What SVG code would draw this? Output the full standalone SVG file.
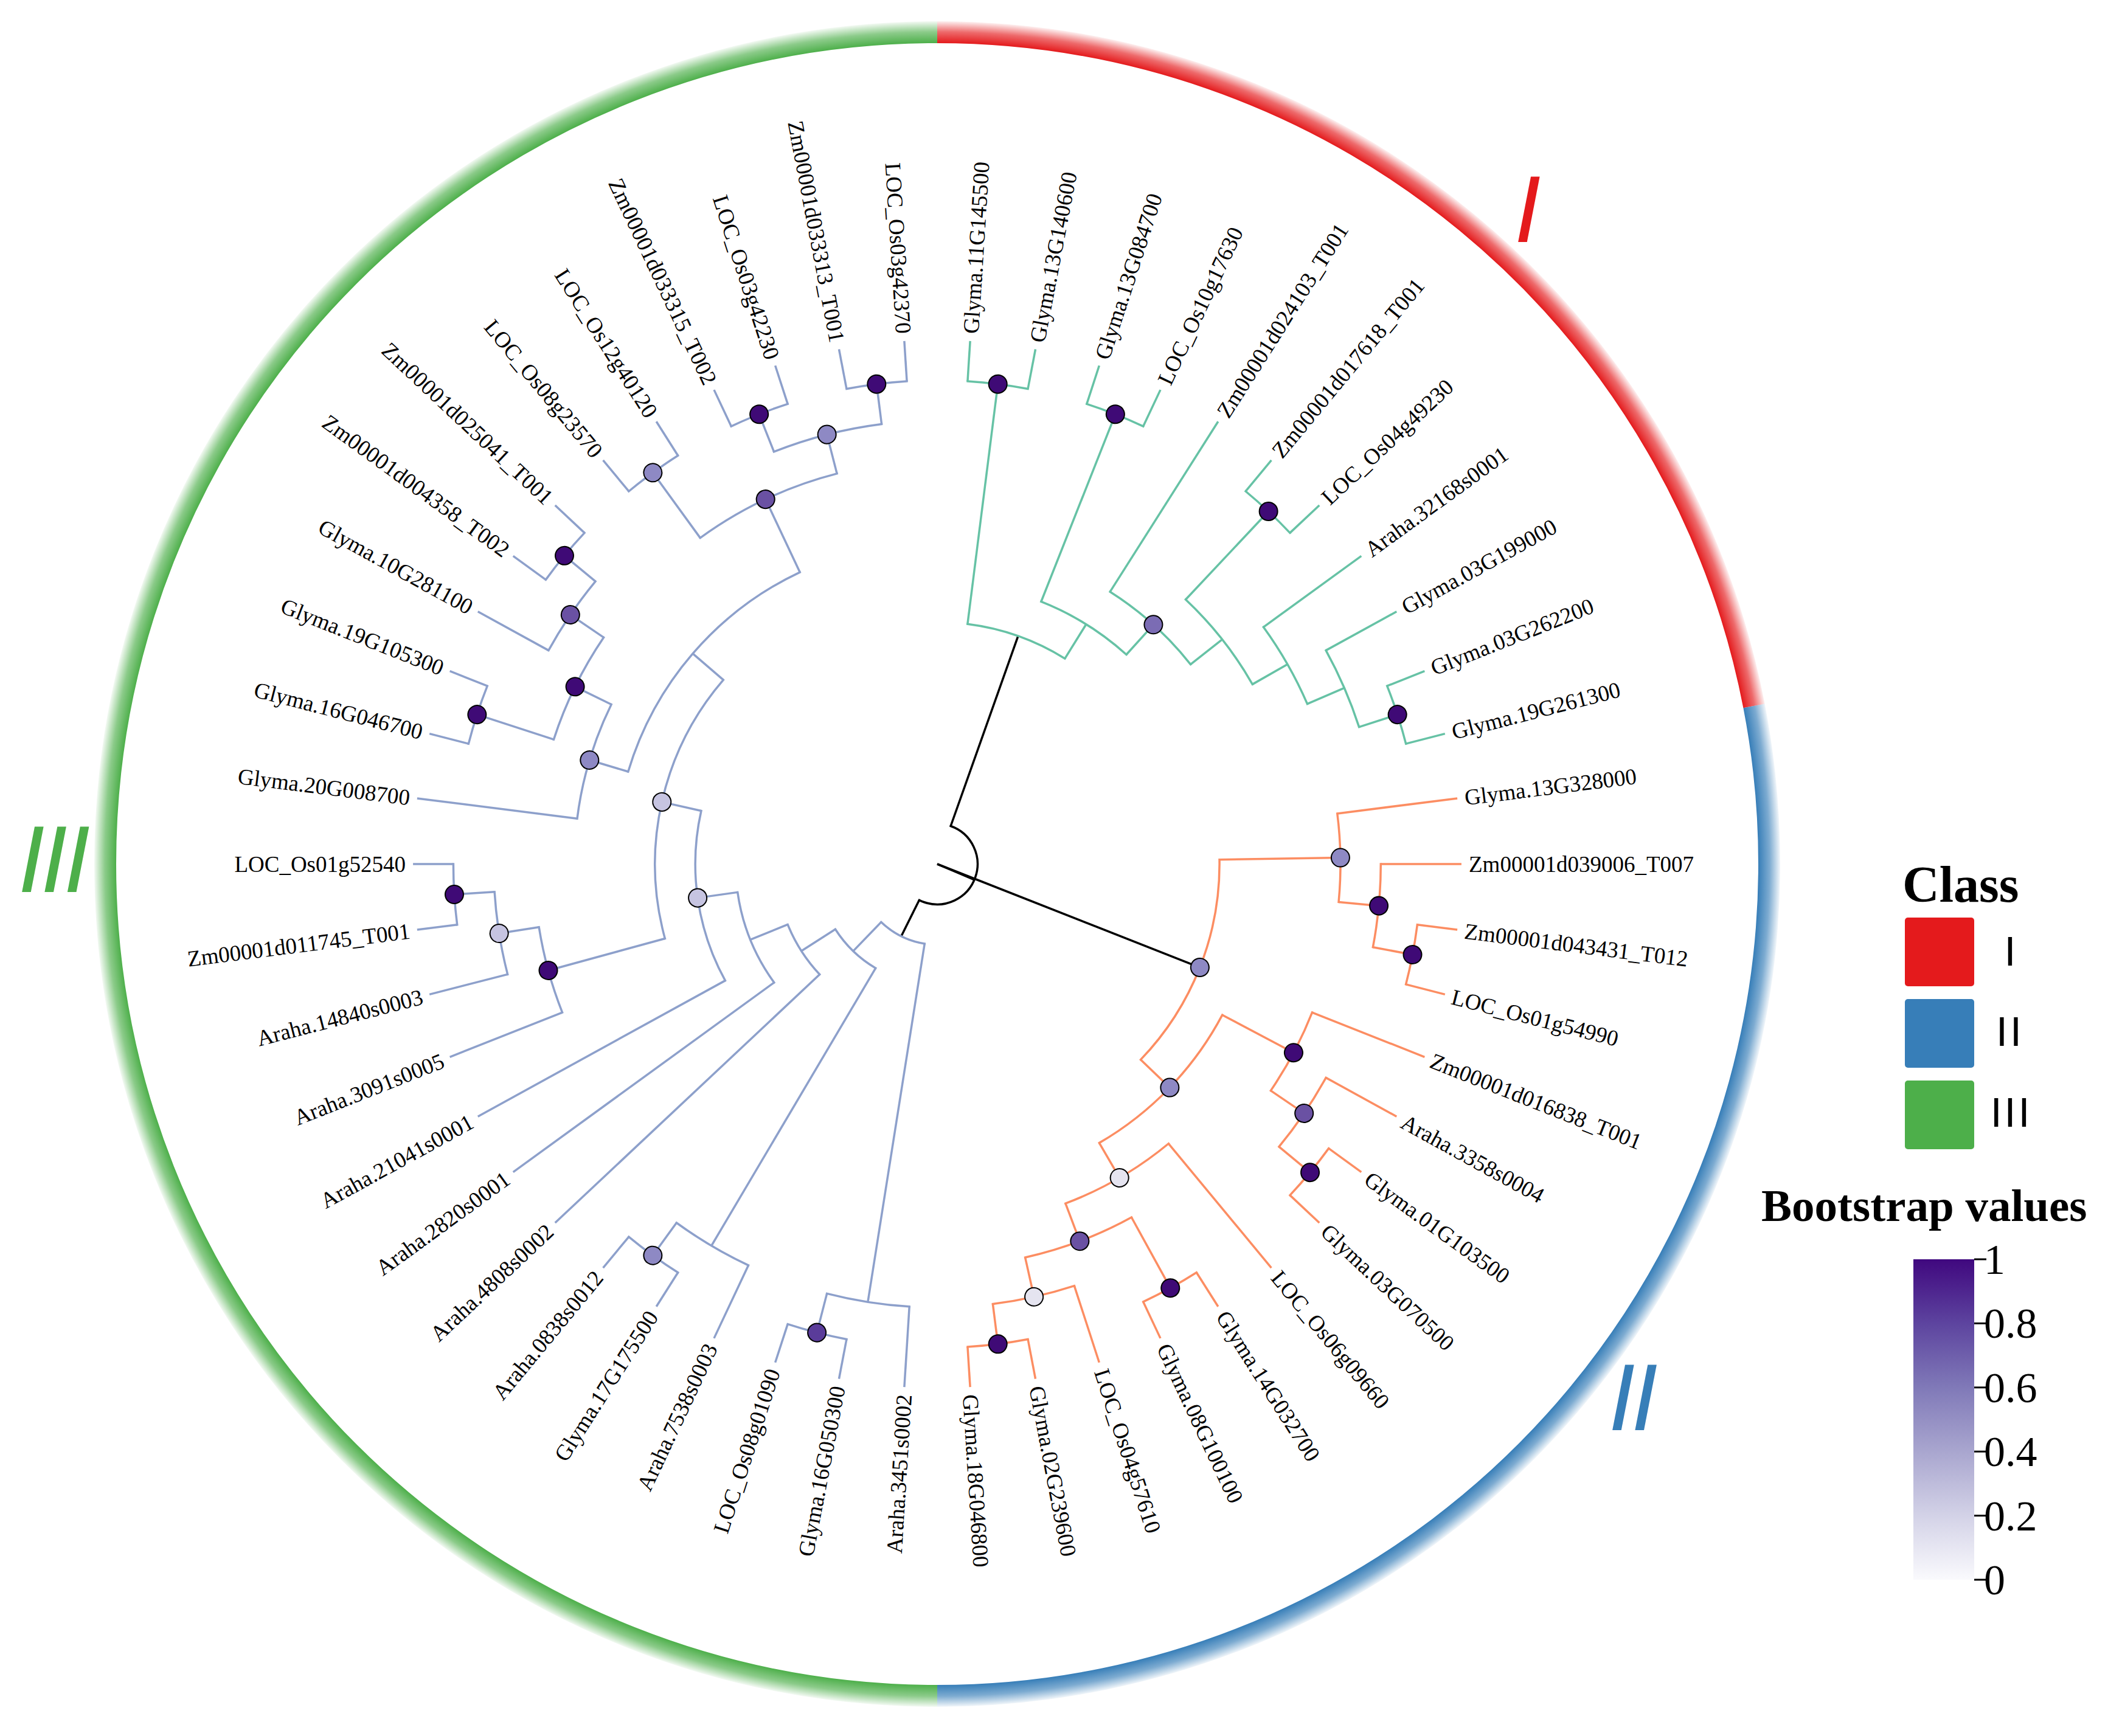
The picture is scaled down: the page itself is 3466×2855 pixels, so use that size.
<svg xmlns="http://www.w3.org/2000/svg" width="3466" height="2855" viewBox="0 0 3466 2855">
<defs>
<style>
.br{fill:none;stroke-width:3.5;stroke-linecap:butt}
.arc{fill:none;stroke-width:3.5;stroke-linecap:square}
.k{stroke:#000}
.c1{stroke:#66c2a5}
.c2{stroke:#fc8d62}
.c3{stroke:#8da0cb}
.lab{font-family:"Liberation Serif","Times New Roman",serif;font-size:37px;fill:#000}
.l{text-anchor:end}
.dot{stroke:#000;stroke-width:2}
.d10{fill:#3f0a76}.d9{fill:#5a3c9a}.d8{fill:#6a51a3}.d7{fill:#7b6cb4}.d6{fill:#8e89c4}.d4{fill:#c6c4e1}.d2{fill:#e5e4f0}
.ring{fill:none;stroke-width:36;stroke-linecap:butt}
.cls{font-family:"Liberation Sans",Arial,sans-serif;font-style:italic;font-size:156px;letter-spacing:-6px}
.leg{font-family:"Liberation Sans",Arial,sans-serif;font-size:68px;text-anchor:middle;letter-spacing:4px;fill:#000}
.tick{font-family:"Liberation Serif","Times New Roman",serif;font-size:70px;fill:#000}
.title{font-family:"Liberation Serif","Times New Roman",serif;font-weight:bold;fill:#000}
</style>
<radialGradient id="gRed" gradientUnits="userSpaceOnUse" cx="1541" cy="1421" r="1388">
<stop offset="0" stop-color="#e41a1c"/><stop offset="0.9726" stop-color="#e41a1c"/><stop offset="0.986" stop-color="#e41a1c" stop-opacity="0.65"/><stop offset="1" stop-color="#e41a1c" stop-opacity="0"/>
</radialGradient>
<radialGradient id="gBlue" gradientUnits="userSpaceOnUse" cx="1541" cy="1421" r="1388">
<stop offset="0" stop-color="#377eb8"/><stop offset="0.9726" stop-color="#377eb8"/><stop offset="0.986" stop-color="#377eb8" stop-opacity="0.65"/><stop offset="1" stop-color="#377eb8" stop-opacity="0"/>
</radialGradient>
<radialGradient id="gGreen" gradientUnits="userSpaceOnUse" cx="1541" cy="1421" r="1388">
<stop offset="0" stop-color="#4daf4a"/><stop offset="0.9726" stop-color="#4daf4a"/><stop offset="0.986" stop-color="#4daf4a" stop-opacity="0.65"/><stop offset="1" stop-color="#4daf4a" stop-opacity="0"/>
</radialGradient>
<linearGradient id="gBoot" x1="0" y1="0" x2="0" y2="1">
<stop offset="0" stop-color="#40087f"/><stop offset="0.2" stop-color="#5d449f"/><stop offset="0.4" stop-color="#8079b8"/><stop offset="0.6" stop-color="#a9a6cf"/><stop offset="0.8" stop-color="#d3d2e7"/><stop offset="1" stop-color="#fafafd"/>
</linearGradient>
</defs>
<rect width="3466" height="2855" fill="#fff"/>

<g id="class-ring">
<path class="ring" stroke="url(#gRed)" d="M1541 53 A1368 1368 0 0 1 2884.05 1160.9"/>
<path class="ring" stroke="url(#gBlue)" d="M2884.05 1160.9 A1368 1368 0 0 1 1541 2789"/>
<path class="ring" stroke="url(#gGreen)" d="M1541 2789 A1368 1368 0 0 1 173 1421 A1368 1368 0 0 1 1541 53"/>
<text class="cls" x="2490" y="398" fill="#e41a1c">I</text>
<text class="cls" x="2645" y="2352" fill="#377eb8">II</text>
<text class="cls" x="30" y="1467" fill="#4daf4a">III</text>
</g>

<g transform="translate(1541 1421)">
<g id="connectors">
<g class="k">
<line class="br" x1="0" x2="464.1" transform="rotate(21.49)"/>
<line class="br" x1="0" x2="66.3" transform="rotate(23.01)"/>
<circle class="arc" r="66.3" pathLength="360" stroke-dasharray="186.98 400" transform="rotate(-70.48)"/>
<line class="br" x1="66.3" x2="397.8" transform="rotate(-70.48)"/>
<line class="br" x1="66.3" x2="132.6" transform="rotate(116.5)"/>
</g>
<g class="c1">
<circle class="arc" r="397.8" pathLength="360" stroke-dasharray="24.64 400" transform="rotate(-82.8)"/>
<circle class="arc" r="464.1" pathLength="360" stroke-dasharray="20.475 400" transform="rotate(-68.4)"/>
<circle class="arc" r="530.4" pathLength="360" stroke-dasharray="19.35 400" transform="rotate(-57.6)"/>
<circle class="arc" r="596.7" pathLength="360" stroke-dasharray="17.1 400" transform="rotate(-46.8)"/>
<circle class="arc" r="663" pathLength="360" stroke-dasharray="12.6 400" transform="rotate(-36)"/>
<circle class="arc" r="729.3" pathLength="360" stroke-dasharray="10.8 400" transform="rotate(-28.8)"/>
<circle class="arc" r="795.6" pathLength="360" stroke-dasharray="7.2 400" transform="rotate(-86.4)"/>
<circle class="arc" r="795.6" pathLength="360" stroke-dasharray="7.2 400" transform="rotate(-72)"/>
<circle class="arc" r="795.6" pathLength="360" stroke-dasharray="7.2 400" transform="rotate(-50.4)"/>
<circle class="arc" r="795.6" pathLength="360" stroke-dasharray="7.2 400" transform="rotate(-21.6)"/>
<line class="br" x1="397.8" x2="795.6" transform="rotate(-82.8)"/>
<line class="br" x1="397.8" x2="464.1" transform="rotate(-58.1625)"/>
<line class="br" x1="464.1" x2="795.6" transform="rotate(-68.4)"/>
<line class="br" x1="464.1" x2="530.4" transform="rotate(-47.925)"/>
<line class="br" x1="530.4" x2="861.9" transform="rotate(-57.6)"/>
<line class="br" x1="530.4" x2="596.7" transform="rotate(-38.25)"/>
<line class="br" x1="596.7" x2="795.6" transform="rotate(-46.8)"/>
<line class="br" x1="596.7" x2="663" transform="rotate(-29.7)"/>
<line class="br" x1="663" x2="861.9" transform="rotate(-36)"/>
<line class="br" x1="663" x2="729.3" transform="rotate(-23.4)"/>
<line class="br" x1="729.3" x2="861.9" transform="rotate(-28.8)"/>
<line class="br" x1="729.3" x2="795.6" transform="rotate(-18)"/>
<line class="br" x1="795.6" x2="861.9" transform="rotate(-86.4)"/>
<line class="br" x1="795.6" x2="861.9" transform="rotate(-79.2)"/>
<line class="br" x1="795.6" x2="861.9" transform="rotate(-72)"/>
<line class="br" x1="795.6" x2="861.9" transform="rotate(-64.8)"/>
<line class="br" x1="795.6" x2="861.9" transform="rotate(-50.4)"/>
<line class="br" x1="795.6" x2="861.9" transform="rotate(-43.2)"/>
<line class="br" x1="795.6" x2="861.9" transform="rotate(-21.6)"/>
<line class="br" x1="795.6" x2="861.9" transform="rotate(-14.4)"/>
</g>
<g class="c2">
<circle class="arc" r="464.1" pathLength="360" stroke-dasharray="44.775 400" transform="rotate(-0.9)"/>
<circle class="arc" r="663" pathLength="360" stroke-dasharray="12.6 400" transform="rotate(-7.2)"/>
<circle class="arc" r="729.3" pathLength="360" stroke-dasharray="10.8 400" transform="rotate(0)"/>
<circle class="arc" r="795.6" pathLength="360" stroke-dasharray="7.2 400" transform="rotate(7.2)"/>
<circle class="arc" r="530.4" pathLength="360" stroke-dasharray="31.95 400" transform="rotate(27.9)"/>
<circle class="arc" r="663" pathLength="360" stroke-dasharray="12.6 400" transform="rotate(21.6)"/>
<circle class="arc" r="729.3" pathLength="360" stroke-dasharray="10.8 400" transform="rotate(28.8)"/>
<circle class="arc" r="795.6" pathLength="360" stroke-dasharray="7.2 400" transform="rotate(36)"/>
<circle class="arc" r="596.7" pathLength="360" stroke-dasharray="18.9 400" transform="rotate(50.4)"/>
<circle class="arc" r="663" pathLength="360" stroke-dasharray="16.2 400" transform="rotate(61.2)"/>
<circle class="arc" r="795.6" pathLength="360" stroke-dasharray="7.2 400" transform="rotate(57.6)"/>
<circle class="arc" r="729.3" pathLength="360" stroke-dasharray="10.8 400" transform="rotate(72)"/>
<circle class="arc" r="795.6" pathLength="360" stroke-dasharray="7.2 400" transform="rotate(79.2)"/>
<line class="br" x1="464.1" x2="663" transform="rotate(-0.9)"/>
<line class="br" x1="663" x2="861.9" transform="rotate(-7.2)"/>
<line class="br" x1="663" x2="729.3" transform="rotate(5.4)"/>
<line class="br" x1="729.3" x2="861.9" transform="rotate(0)"/>
<line class="br" x1="729.3" x2="795.6" transform="rotate(10.8)"/>
<line class="br" x1="795.6" x2="861.9" transform="rotate(7.2)"/>
<line class="br" x1="795.6" x2="861.9" transform="rotate(14.4)"/>
<line class="br" x1="464.1" x2="530.4" transform="rotate(43.875)"/>
<line class="br" x1="530.4" x2="663" transform="rotate(27.9)"/>
<line class="br" x1="663" x2="861.9" transform="rotate(21.6)"/>
<line class="br" x1="663" x2="729.3" transform="rotate(34.2)"/>
<line class="br" x1="729.3" x2="861.9" transform="rotate(28.8)"/>
<line class="br" x1="729.3" x2="795.6" transform="rotate(39.6)"/>
<line class="br" x1="795.6" x2="861.9" transform="rotate(36)"/>
<line class="br" x1="795.6" x2="861.9" transform="rotate(43.2)"/>
<line class="br" x1="530.4" x2="596.7" transform="rotate(59.85)"/>
<line class="br" x1="596.7" x2="861.9" transform="rotate(50.4)"/>
<line class="br" x1="596.7" x2="663" transform="rotate(69.3)"/>
<line class="br" x1="663" x2="795.6" transform="rotate(61.2)"/>
<line class="br" x1="795.6" x2="861.9" transform="rotate(57.6)"/>
<line class="br" x1="795.6" x2="861.9" transform="rotate(64.8)"/>
<line class="br" x1="663" x2="729.3" transform="rotate(77.4)"/>
<line class="br" x1="729.3" x2="861.9" transform="rotate(72)"/>
<line class="br" x1="729.3" x2="795.6" transform="rotate(82.8)"/>
<line class="br" x1="795.6" x2="861.9" transform="rotate(79.2)"/>
<line class="br" x1="795.6" x2="861.9" transform="rotate(86.4)"/>
</g>
<g class="c3">
<circle class="arc" r="132.6" pathLength="360" stroke-dasharray="34.99 400" transform="rotate(99)"/>
<circle class="arc" r="729.3" pathLength="360" stroke-dasharray="10.8 400" transform="rotate(93.6)"/>
<circle class="arc" r="795.6" pathLength="360" stroke-dasharray="7.2 400" transform="rotate(100.8)"/>
<circle class="arc" r="198.9" pathLength="360" stroke-dasharray="26.79 400" transform="rotate(120.6)"/>
<circle class="arc" r="729.3" pathLength="360" stroke-dasharray="10.8 400" transform="rotate(115.2)"/>
<circle class="arc" r="795.6" pathLength="360" stroke-dasharray="7.2 400" transform="rotate(122.4)"/>
<circle class="arc" r="265.2" pathLength="360" stroke-dasharray="21.18 400" transform="rotate(136.8)"/>
<circle class="arc" r="331.5" pathLength="360" stroke-dasharray="27.96 400" transform="rotate(144)"/>
<circle class="arc" r="397.8" pathLength="360" stroke-dasharray="41.51 400" transform="rotate(151.2)"/>
<circle class="arc" r="464.1" pathLength="360" stroke-dasharray="56.03 400" transform="rotate(164.7)"/>
<circle class="arc" r="663" pathLength="360" stroke-dasharray="12.6 400" transform="rotate(158.4)"/>
<circle class="arc" r="729.3" pathLength="360" stroke-dasharray="10.8 400" transform="rotate(165.6)"/>
<circle class="arc" r="795.6" pathLength="360" stroke-dasharray="7.2 400" transform="rotate(172.8)"/>
<circle class="arc" r="530.4" pathLength="360" stroke-dasharray="48.15 400" transform="rotate(196.65)"/>
<circle class="arc" r="596.7" pathLength="360" stroke-dasharray="18.9 400" transform="rotate(187.2)"/>
<circle class="arc" r="663" pathLength="360" stroke-dasharray="16.2 400" transform="rotate(198)"/>
<circle class="arc" r="795.6" pathLength="360" stroke-dasharray="7.2 400" transform="rotate(194.4)"/>
<circle class="arc" r="729.3" pathLength="360" stroke-dasharray="10.8 400" transform="rotate(208.8)"/>
<circle class="arc" r="795.6" pathLength="360" stroke-dasharray="7.2 400" transform="rotate(216)"/>
<circle class="arc" r="663" pathLength="360" stroke-dasharray="21.6 400" transform="rotate(234)"/>
<circle class="arc" r="795.6" pathLength="360" stroke-dasharray="7.2 400" transform="rotate(230.4)"/>
<circle class="arc" r="729.3" pathLength="360" stroke-dasharray="14.4 400" transform="rotate(248.4)"/>
<circle class="arc" r="795.6" pathLength="360" stroke-dasharray="7.2 400" transform="rotate(244.8)"/>
<circle class="arc" r="795.6" pathLength="360" stroke-dasharray="7.2 400" transform="rotate(259.2)"/>
<line class="br" x1="132.6" x2="729.3" transform="rotate(99)"/>
<line class="br" x1="729.3" x2="861.9" transform="rotate(93.6)"/>
<line class="br" x1="729.3" x2="795.6" transform="rotate(104.4)"/>
<line class="br" x1="795.6" x2="861.9" transform="rotate(100.8)"/>
<line class="br" x1="795.6" x2="861.9" transform="rotate(108)"/>
<line class="br" x1="132.6" x2="198.9" transform="rotate(133.99)"/>
<line class="br" x1="198.9" x2="729.3" transform="rotate(120.6)"/>
<line class="br" x1="729.3" x2="861.9" transform="rotate(115.2)"/>
<line class="br" x1="729.3" x2="795.6" transform="rotate(126)"/>
<line class="br" x1="795.6" x2="861.9" transform="rotate(122.4)"/>
<line class="br" x1="795.6" x2="861.9" transform="rotate(129.6)"/>
<line class="br" x1="198.9" x2="265.2" transform="rotate(147.39)"/>
<line class="br" x1="265.2" x2="861.9" transform="rotate(136.8)"/>
<line class="br" x1="265.2" x2="331.5" transform="rotate(157.98)"/>
<line class="br" x1="331.5" x2="861.9" transform="rotate(144)"/>
<line class="br" x1="331.5" x2="397.8" transform="rotate(171.96)"/>
<line class="br" x1="397.8" x2="861.9" transform="rotate(151.2)"/>
<line class="br" x1="397.8" x2="464.1" transform="rotate(192.71)"/>
<line class="br" x1="464.1" x2="663" transform="rotate(164.7)"/>
<line class="br" x1="663" x2="861.9" transform="rotate(158.4)"/>
<line class="br" x1="663" x2="729.3" transform="rotate(171)"/>
<line class="br" x1="729.3" x2="861.9" transform="rotate(165.6)"/>
<line class="br" x1="729.3" x2="795.6" transform="rotate(176.4)"/>
<line class="br" x1="795.6" x2="861.9" transform="rotate(172.8)"/>
<line class="br" x1="795.6" x2="861.9" transform="rotate(180)"/>
<line class="br" x1="464.1" x2="530.4" transform="rotate(220.73)"/>
<line class="br" x1="530.4" x2="596.7" transform="rotate(196.65)"/>
<line class="br" x1="596.7" x2="861.9" transform="rotate(187.2)"/>
<line class="br" x1="596.7" x2="663" transform="rotate(206.1)"/>
<line class="br" x1="663" x2="795.6" transform="rotate(198)"/>
<line class="br" x1="795.6" x2="861.9" transform="rotate(194.4)"/>
<line class="br" x1="795.6" x2="861.9" transform="rotate(201.6)"/>
<line class="br" x1="663" x2="729.3" transform="rotate(214.2)"/>
<line class="br" x1="729.3" x2="861.9" transform="rotate(208.8)"/>
<line class="br" x1="729.3" x2="795.6" transform="rotate(219.6)"/>
<line class="br" x1="795.6" x2="861.9" transform="rotate(216)"/>
<line class="br" x1="795.6" x2="861.9" transform="rotate(223.2)"/>
<line class="br" x1="530.4" x2="663" transform="rotate(244.8)"/>
<line class="br" x1="663" x2="795.6" transform="rotate(234)"/>
<line class="br" x1="795.6" x2="861.9" transform="rotate(230.4)"/>
<line class="br" x1="795.6" x2="861.9" transform="rotate(237.6)"/>
<line class="br" x1="663" x2="729.3" transform="rotate(255.6)"/>
<line class="br" x1="729.3" x2="795.6" transform="rotate(248.4)"/>
<line class="br" x1="795.6" x2="861.9" transform="rotate(244.8)"/>
<line class="br" x1="795.6" x2="861.9" transform="rotate(252)"/>
<line class="br" x1="729.3" x2="795.6" transform="rotate(262.8)"/>
<line class="br" x1="795.6" x2="861.9" transform="rotate(259.2)"/>
<line class="br" x1="795.6" x2="861.9" transform="rotate(266.4)"/>
</g>
</g>

<g id="internal-nodes">
<g id="node-A"><circle class="dot d10" cx="795.6" r="15" transform="rotate(-82.8)"/></g>
<g id="node-B"><circle class="dot d10" cx="795.6" r="15" transform="rotate(-68.4)"/></g>
<g id="node-E"><circle class="dot d10" cx="795.6" r="15" transform="rotate(-46.8)"/></g>
<g id="node-G"><circle class="dot d10" cx="795.6" r="15" transform="rotate(-18)"/></g>
<g id="node-D"><circle class="dot d7" cx="530.4" r="15" transform="rotate(-47.925)"/></g>
<g id="node-C2"><circle class="dot d6" cx="464.1" r="15" transform="rotate(21.49)"/></g>
<g id="node-J"><circle class="dot d6" cx="663" r="15" transform="rotate(-0.9)"/></g>
<g id="node-K"><circle class="dot d10" cx="729.3" r="15" transform="rotate(5.4)"/></g>
<g id="node-L"><circle class="dot d10" cx="795.6" r="15" transform="rotate(10.8)"/></g>
<g id="node-M"><circle class="dot d6" cx="530.4" r="15" transform="rotate(43.875)"/></g>
<g id="node-N"><circle class="dot d10" cx="663" r="15" transform="rotate(27.9)"/></g>
<g id="node-O"><circle class="dot d8" cx="729.3" r="15" transform="rotate(34.2)"/></g>
<g id="node-P"><circle class="dot d10" cx="795.6" r="15" transform="rotate(39.6)"/></g>
<g id="node-Q"><circle class="dot d2" cx="596.7" r="15" transform="rotate(59.85)"/></g>
<g id="node-R"><circle class="dot d8" cx="663" r="15" transform="rotate(69.3)"/></g>
<g id="node-S"><circle class="dot d10" cx="795.6" r="15" transform="rotate(61.2)"/></g>
<g id="node-T"><circle class="dot d2" cx="729.3" r="15" transform="rotate(77.4)"/></g>
<g id="node-U"><circle class="dot d10" cx="795.6" r="15" transform="rotate(82.8)"/></g>
<g id="node-V"><circle class="dot d9" cx="795.6" r="15" transform="rotate(104.4)"/></g>
<g id="node-Y"><circle class="dot d6" cx="795.6" r="15" transform="rotate(126)"/></g>
<g id="node-HH"><circle class="dot d10" cx="795.6" r="15" transform="rotate(176.4)"/></g>
<g id="node-II"><circle class="dot d4" cx="729.3" r="15" transform="rotate(171)"/></g>
<g id="node-JJ"><circle class="dot d10" cx="663" r="15" transform="rotate(164.7)"/></g>
<g id="node-GG"><circle class="dot d4" cx="397.8" r="15" transform="rotate(171.96)"/></g>
<g id="node-FF"><circle class="dot d4" cx="464.1" r="15" transform="rotate(192.71)"/></g>
<g id="node-EE"><circle class="dot d6" cx="596.7" r="15" transform="rotate(196.65)"/></g>
<g id="node-DD"><circle class="dot d10" cx="795.6" r="15" transform="rotate(198)"/></g>
<g id="node-LL"><circle class="dot d10" cx="663" r="15" transform="rotate(206.1)"/></g>
<g id="node-MM"><circle class="dot d8" cx="729.3" r="15" transform="rotate(214.2)"/></g>
<g id="node-NN"><circle class="dot d10" cx="795.6" r="15" transform="rotate(219.6)"/></g>
<g id="node-OO"><circle class="dot d6" cx="795.6" r="15" transform="rotate(234)"/></g>
<g id="node-PP"><circle class="dot d10" cx="795.6" r="15" transform="rotate(248.4)"/></g>
<g id="node-QQ"><circle class="dot d10" cx="795.6" r="15" transform="rotate(262.8)"/></g>
<g id="node-RR"><circle class="dot d6" cx="729.3" r="15" transform="rotate(255.6)"/></g>
<g id="node-SS"><circle class="dot d8" cx="663" r="15" transform="rotate(244.8)"/></g>
</g>

<g id="leaves">
<g id="leaf-Glyma.11G145500"><text class="lab" x="874" y="13" transform="rotate(-86.4)">Glyma.11G145500</text></g>
<g id="leaf-Glyma.13G140600"><text class="lab" x="874" y="13" transform="rotate(-79.2)">Glyma.13G140600</text></g>
<g id="leaf-Glyma.13G084700"><text class="lab" x="874" y="13" transform="rotate(-72)">Glyma.13G084700</text></g>
<g id="leaf-LOC_Os10g17630"><text class="lab" x="874" y="13" transform="rotate(-64.8)">LOC_Os10g17630</text></g>
<g id="leaf-Zm00001d024103_T001"><text class="lab" x="874" y="13" transform="rotate(-57.6)">Zm00001d024103_T001</text></g>
<g id="leaf-Zm00001d017618_T001"><text class="lab" x="874" y="13" transform="rotate(-50.4)">Zm00001d017618_T001</text></g>
<g id="leaf-LOC_Os04g49230"><text class="lab" x="874" y="13" transform="rotate(-43.2)">LOC_Os04g49230</text></g>
<g id="leaf-Araha.32168s0001"><text class="lab" x="874" y="13" transform="rotate(-36)">Araha.32168s0001</text></g>
<g id="leaf-Glyma.03G199000"><text class="lab" x="874" y="13" transform="rotate(-28.8)">Glyma.03G199000</text></g>
<g id="leaf-Glyma.03G262200"><text class="lab" x="874" y="13" transform="rotate(-21.6)">Glyma.03G262200</text></g>
<g id="leaf-Glyma.19G261300"><text class="lab" x="874" y="13" transform="rotate(-14.4)">Glyma.19G261300</text></g>
<g id="leaf-Glyma.13G328000"><text class="lab" x="874" y="13" transform="rotate(-7.2)">Glyma.13G328000</text></g>
<g id="leaf-Zm00001d039006_T007"><text class="lab" x="874" y="13" transform="rotate(0)">Zm00001d039006_T007</text></g>
<g id="leaf-Zm00001d043431_T012"><text class="lab" x="874" y="13" transform="rotate(7.2)">Zm00001d043431_T012</text></g>
<g id="leaf-LOC_Os01g54990"><text class="lab" x="874" y="13" transform="rotate(14.4)">LOC_Os01g54990</text></g>
<g id="leaf-Zm00001d016838_T001"><text class="lab" x="874" y="13" transform="rotate(21.6)">Zm00001d016838_T001</text></g>
<g id="leaf-Araha.3358s0004"><text class="lab" x="874" y="13" transform="rotate(28.8)">Araha.3358s0004</text></g>
<g id="leaf-Glyma.01G103500"><text class="lab" x="874" y="13" transform="rotate(36)">Glyma.01G103500</text></g>
<g id="leaf-Glyma.03G070500"><text class="lab" x="874" y="13" transform="rotate(43.2)">Glyma.03G070500</text></g>
<g id="leaf-LOC_Os06g09660"><text class="lab" x="874" y="13" transform="rotate(50.4)">LOC_Os06g09660</text></g>
<g id="leaf-Glyma.14G032700"><text class="lab" x="874" y="13" transform="rotate(57.6)">Glyma.14G032700</text></g>
<g id="leaf-Glyma.08G100100"><text class="lab" x="874" y="13" transform="rotate(64.8)">Glyma.08G100100</text></g>
<g id="leaf-LOC_Os04g57610"><text class="lab" x="874" y="13" transform="rotate(72)">LOC_Os04g57610</text></g>
<g id="leaf-Glyma.02G239600"><text class="lab" x="874" y="13" transform="rotate(79.2)">Glyma.02G239600</text></g>
<g id="leaf-Glyma.18G046800"><text class="lab" x="874" y="13" transform="rotate(86.4)">Glyma.18G046800</text></g>
<g id="leaf-Araha.3451s0002"><text class="lab l" x="-874" y="13" transform="rotate(-86.4)">Araha.3451s0002</text></g>
<g id="leaf-Glyma.16G050300"><text class="lab l" x="-874" y="13" transform="rotate(-79.2)">Glyma.16G050300</text></g>
<g id="leaf-LOC_Os08g01090"><text class="lab l" x="-874" y="13" transform="rotate(-72)">LOC_Os08g01090</text></g>
<g id="leaf-Araha.7538s0003"><text class="lab l" x="-874" y="13" transform="rotate(-64.8)">Araha.7538s0003</text></g>
<g id="leaf-Glyma.17G175500"><text class="lab l" x="-874" y="13" transform="rotate(-57.6)">Glyma.17G175500</text></g>
<g id="leaf-Araha.0838s0012"><text class="lab l" x="-874" y="13" transform="rotate(-50.4)">Araha.0838s0012</text></g>
<g id="leaf-Araha.4808s0002"><text class="lab l" x="-874" y="13" transform="rotate(-43.2)">Araha.4808s0002</text></g>
<g id="leaf-Araha.2820s0001"><text class="lab l" x="-874" y="13" transform="rotate(-36)">Araha.2820s0001</text></g>
<g id="leaf-Araha.21041s0001"><text class="lab l" x="-874" y="13" transform="rotate(-28.8)">Araha.21041s0001</text></g>
<g id="leaf-Araha.3091s0005"><text class="lab l" x="-874" y="13" transform="rotate(-21.6)">Araha.3091s0005</text></g>
<g id="leaf-Araha.14840s0003"><text class="lab l" x="-874" y="13" transform="rotate(-14.4)">Araha.14840s0003</text></g>
<g id="leaf-Zm00001d011745_T001"><text class="lab l" x="-874" y="13" transform="rotate(-7.2)">Zm00001d011745_T001</text></g>
<g id="leaf-LOC_Os01g52540"><text class="lab l" x="-874" y="13" transform="rotate(0)">LOC_Os01g52540</text></g>
<g id="leaf-Glyma.20G008700"><text class="lab l" x="-874" y="13" transform="rotate(7.2)">Glyma.20G008700</text></g>
<g id="leaf-Glyma.16G046700"><text class="lab l" x="-874" y="13" transform="rotate(14.4)">Glyma.16G046700</text></g>
<g id="leaf-Glyma.19G105300"><text class="lab l" x="-874" y="13" transform="rotate(21.6)">Glyma.19G105300</text></g>
<g id="leaf-Glyma.10G281100"><text class="lab l" x="-874" y="13" transform="rotate(28.8)">Glyma.10G281100</text></g>
<g id="leaf-Zm00001d004358_T002"><text class="lab l" x="-874" y="13" transform="rotate(36)">Zm00001d004358_T002</text></g>
<g id="leaf-Zm00001d025041_T001"><text class="lab l" x="-874" y="13" transform="rotate(43.2)">Zm00001d025041_T001</text></g>
<g id="leaf-LOC_Os08g23570"><text class="lab l" x="-874" y="13" transform="rotate(50.4)">LOC_Os08g23570</text></g>
<g id="leaf-LOC_Os12g40120"><text class="lab l" x="-874" y="13" transform="rotate(57.6)">LOC_Os12g40120</text></g>
<g id="leaf-Zm00001d033315_T002"><text class="lab l" x="-874" y="13" transform="rotate(64.8)">Zm00001d033315_T002</text></g>
<g id="leaf-LOC_Os03g42230"><text class="lab l" x="-874" y="13" transform="rotate(72)">LOC_Os03g42230</text></g>
<g id="leaf-Zm00001d033313_T001"><text class="lab l" x="-874" y="13" transform="rotate(79.2)">Zm00001d033313_T001</text></g>
<g id="leaf-LOC_Os03g42370"><text class="lab l" x="-874" y="13" transform="rotate(86.4)">LOC_Os03g42370</text></g>
</g>
</g>

<g id="legend-class">
<text class="title" x="3128" y="1483" font-size="84">Class</text>
<rect x="3132" y="1509" width="114" height="113" rx="5" fill="#e41a1c"/>
<rect x="3132" y="1643" width="114" height="113" rx="5" fill="#377eb8"/>
<rect x="3132" y="1777" width="114" height="113" rx="5" fill="#4daf4a"/>
<text class="leg" x="3307" y="1588">I</text>
<text class="leg" x="3305" y="1720">II</text>
<text class="leg" x="3307" y="1853">III</text>
</g>

<g id="legend-bootstrap">
<text class="title" x="2896" y="2008" font-size="75">Bootstrap values</text>
<rect x="3146" y="2071" width="100" height="527" fill="url(#gBoot)"/>
<g stroke="#000" stroke-width="3">
<line x1="3246" x2="3266" y1="2071" y2="2071"/>
<line x1="3246" x2="3266" y1="2176.4" y2="2176.4"/>
<line x1="3246" x2="3266" y1="2281.8" y2="2281.8"/>
<line x1="3246" x2="3266" y1="2387.2" y2="2387.2"/>
<line x1="3246" x2="3266" y1="2492.6" y2="2492.6"/>
<line x1="3246" x2="3266" y1="2598" y2="2598"/>
</g>
<text class="tick" x="3262" y="2095">1</text>
<text class="tick" x="3262" y="2200">0.8</text>
<text class="tick" x="3262" y="2306">0.6</text>
<text class="tick" x="3262" y="2411">0.4</text>
<text class="tick" x="3262" y="2517">0.2</text>
<text class="tick" x="3262" y="2622">0</text>
</g>
</svg>
